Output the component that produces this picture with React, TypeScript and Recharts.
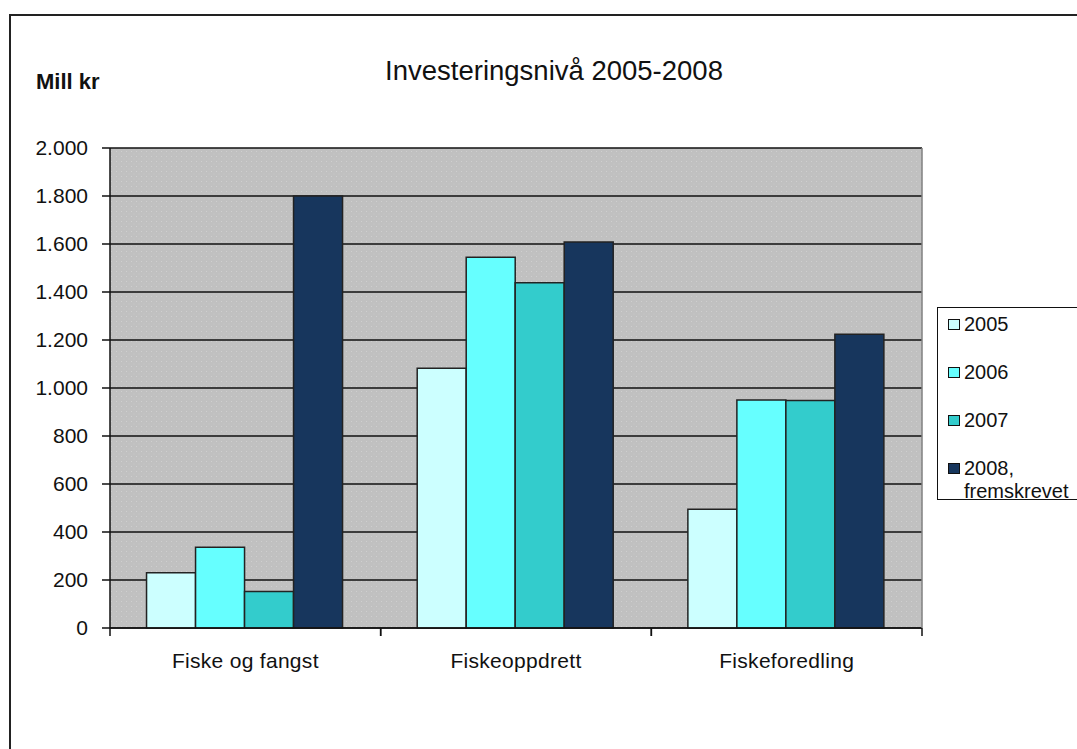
import React from 'react';
import { BarChart, Bar, XAxis, YAxis, CartesianGrid, Legend } from 'recharts';

const categories = ['Fiske og fangst', 'Fiskeoppdrett', 'Fiskeforedling'];
const v2005 = [230, 1082, 495];
const v2006 = [336, 1545, 950];
const v2007 = [152, 1439, 948];
const v2008 = [1800, 1608, 1224];
const yTicks = [0, 200, 400, 600, 800, 1000, 1200, 1400, 1600, 1800, 2000];
const seriesNames = ['2005', '2006', '2007', '2008, fremskrevet'];
const seriesKeys = ['y2005', 'y2006', 'y2007', 'y2008'];
const seriesColors = ['#CCFFFF', '#66FFFF', '#33CCCC', '#17365D'];

const data = categories.map((c, i) => ({
  name: c,
  y2005: v2005[i],
  y2006: v2006[i],
  y2007: v2007[i],
  y2008: v2008[i],
}));

const FONT = '"Liberation Sans", Arial, sans-serif';

const fmt = (v: number) => v.toLocaleString('de-DE');

const CategoryTick = (props: any) => {
  const { x, y, payload } = props;
  const off = payload && typeof payload.offset === 'number' ? payload.offset : 0;
  return (
    <g>
      <line x1={x - off} y1={y} x2={x - off} y2={y + 8} stroke="#111" strokeWidth={1.5} />
      <line x1={x + off} y1={y} x2={x + off} y2={y + 8} stroke="#111" strokeWidth={1.5} />
      <text
        x={x}
        y={y + 25}
        dy="0.71em"
        textAnchor="middle"
        fill="#111"
        fontSize={21}
        fontFamily={FONT}
        letterSpacing={0.3}
      >
        {payload.value}
      </text>
    </g>
  );
};

const LegendContent = () => (
  <div
    style={{
      border: '1.5px solid #111',
      background: '#fff',
      width: 200,
      height: 193,
      boxSizing: 'border-box',
      paddingTop: 5,
      fontFamily: FONT,
      fontSize: 20,
      color: '#111',
    }}
  >
    {seriesNames.map((n, i) => (
      <div key={n} style={{ display: 'flex', alignItems: 'flex-start', height: 48, paddingLeft: 10 }}>
        <div
          style={{
            width: 10,
            height: 9,
            border: '1.2px solid #111',
            background: seriesColors[i],
            marginTop: 6,
            marginRight: 4,
            flex: 'none',
          }}
        />
        <div style={{ width: 112, lineHeight: '23px' }}>{n}</div>
      </div>
    ))}
  </div>
);

export default function App() {
  return (
    <div
      style={{
        position: 'fixed',
        left: 0,
        top: 0,
        width: 1077,
        height: 749,
        overflow: 'hidden',
        background: '#fff',
      }}
    >
      <div
        style={{
          position: 'absolute',
          left: 9,
          top: 14,
          width: 1200,
          height: 900,
          border: '2px solid #222',
        }}
      />
      <div style={{ position: 'absolute', left: 0, top: 0 }}>
        <BarChart
          width={1077}
          height={749}
          data={data}
          margin={{ top: 148, right: 154, bottom: 81, left: 0 }}
          barCategoryGap="13.5%"
          barGap={0}
        >
          <defs>
            <pattern id="dots" x="0" y="0" width="5" height="5" patternUnits="userSpaceOnUse">
              <rect x="0" y="0" width="5" height="5" fill="#c0c0c0" />
              <rect x="1" y="1" width="1" height="1" fill="#cfcfcf" />
              <rect x="3.5" y="3.5" width="1" height="1" fill="#cbcbcb" />
            </pattern>
          </defs>
          <CartesianGrid
            vertical={false}
            stroke="#111"
            strokeWidth={1.5}
            fill="url(#dots)"
            fillOpacity={1}
          />
          <XAxis
            dataKey="name"
            height={40}
            tickSize={0}
            tickMargin={0}
            interval={0}
            tickLine={false}
            axisLine={{ stroke: '#111', strokeWidth: 1.5 }}
            tick={<CategoryTick />}
          />
          <YAxis
            width={110}
            domain={[0, 2000]}
            ticks={yTicks}
            interval={0}
            tickFormatter={fmt}
            tickSize={8}
            tickMargin={14}
            axisLine={{ stroke: '#111', strokeWidth: 1.5 }}
            tickLine={{ stroke: '#111', strokeWidth: 1.5 }}
            tick={{ fill: '#111', fontSize: 21, fontFamily: FONT }}
          />
          <YAxis
            yAxisId="r"
            orientation="right"
            width={1}
            domain={[0, 2000]}
            tick={false}
            tickLine={false}
            axisLine={{ stroke: '#808080', strokeWidth: 1.5 }}
          />
          {seriesKeys.map((k, i) => (
            <Bar
              key={k}
              dataKey={k}
              name={seriesNames[i]}
              fill={seriesColors[i]}
              stroke="#222"
              strokeWidth={1.5}
              isAnimationActive={false}
            />
          ))}
          <Legend
            layout="horizontal"
            verticalAlign="middle"
            align="center"
            content={<LegendContent />}
            wrapperStyle={{ position: 'absolute', left: 937, top: 307, width: 200, height: 193, right: 'auto', bottom: 'auto' }}
          />
        </BarChart>
      </div>
      <svg
        width={1077}
        height={749}
        style={{ position: 'absolute', left: 0, top: 0, pointerEvents: 'none' }}
      >
        <text x={554} y={80} textAnchor="middle" fontFamily={FONT} fontSize={27.5} fill="#111">
          Investeringsnivå 2005-2008
        </text>
        <text x={36} y={89} fontFamily={FONT} fontSize={22} fontWeight="bold" fill="#111">
          Mill kr
        </text>
      </svg>
    </div>
  );
}
